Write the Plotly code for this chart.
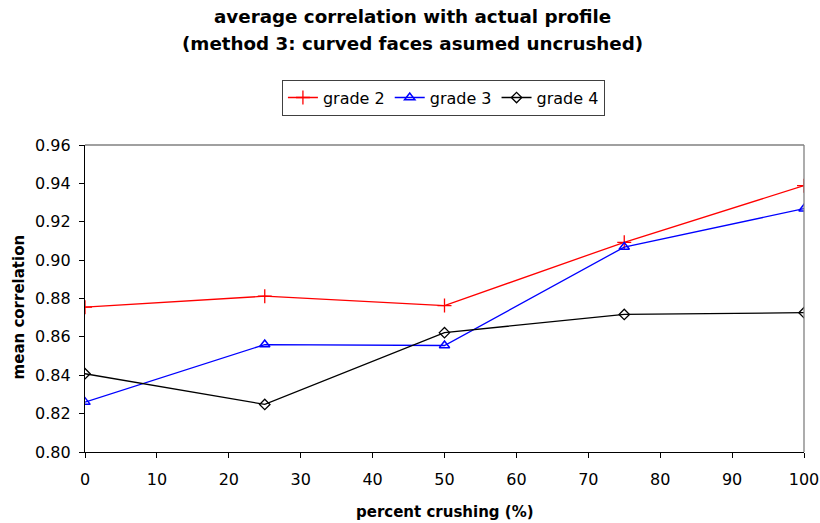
import plotly.graph_objects as go

# percent crushing (%)
crushing = [0, 25, 50, 75, 100]

# mean correlation per grade
grade_2 = [0.8755, 0.8812, 0.8763, 0.9093, 0.9388]
grade_3 = [0.8260, 0.8560, 0.8555, 0.9068, 0.9268]
grade_4 = [0.8408, 0.8248, 0.8622, 0.8717, 0.8726]

y_ticks = [0.80, 0.82, 0.84, 0.86, 0.88, 0.90, 0.92, 0.94, 0.96]
x_ticks = [0, 10, 20, 30, 40, 50, 60, 70, 80, 90, 100]

FONT = "DejaVu Sans, Verdana, sans-serif"
INK = "#000000"

fig = go.Figure()
fig.add_trace(go.Scatter(
    x=crushing, y=grade_2, name="grade 2", mode="lines+markers",
    line=dict(color="#ff0000", width=1.3),
    marker=dict(symbol="cross-thin", size=10, line=dict(color="#ff0000", width=1.3)),
))
fig.add_trace(go.Scatter(
    x=crushing, y=grade_3, name="grade 3", mode="lines+markers",
    line=dict(color="#0000ff", width=1.3),
    marker=dict(symbol="triangle-up-open", size=9, color="#0000ff", line=dict(width=1.5)),
))
fig.add_trace(go.Scatter(
    x=crushing, y=grade_4, name="grade 4", mode="lines+markers",
    line=dict(color=INK, width=1.3),
    marker=dict(symbol="diamond-open", size=8, color=INK, line=dict(width=1.3)),
))

fig.update_layout(
    width=820, height=523,
    margin=dict(l=85, r=16, t=145, b=71, autoexpand=False),
    paper_bgcolor="white", plot_bgcolor="white",
    font=dict(family=FONT, size=16, color=INK),
    showlegend=True,
    legend=dict(
        orientation="h", x=0.4985, xanchor="center", y=1.213, yanchor="top",
        bordercolor="#404040", borderwidth=1, bgcolor="white",
        font=dict(family=FONT, size=16, color=INK),
        itemwidth=30, tracegroupgap=0,
    ),
    xaxis=dict(
        range=[0, 100], tickvals=x_ticks, ticks="outside", ticklen=5,
        tickcolor=INK, showline=True, linecolor=INK, linewidth=1.3,
        showgrid=False, zeroline=False, ticklabelstandoff=8,
        tickfont=dict(family=FONT, size=16, color=INK),
    ),
    yaxis=dict(
        range=[0.80, 0.96], tickvals=y_ticks, tickformat=".2f", ticks="outside",
        ticklen=5, tickcolor=INK, showline=True, linecolor=INK,
        linewidth=1.3, showgrid=False, zeroline=False, ticklabelstandoff=5,
        tickfont=dict(family=FONT, size=16, color=INK),
    ),
    shapes=[
        dict(type="line", xref="paper", yref="paper", x0=0, x1=1, y0=1, y1=1,
             line=dict(color="#808080", width=1.3)),
        dict(type="line", xref="paper", yref="paper", x0=1, x1=1, y0=0, y1=1,
             line=dict(color="#808080", width=1.3)),
    ],
    annotations=[
        dict(text="<b>average correlation with actual profile</b>", xref="paper",
             yref="paper", x=0.456, y=1.418, xanchor="center", yanchor="middle",
             showarrow=False, font=dict(family=FONT, size=18.3, color=INK)),
        dict(text="<b>(method 3: curved faces asumed uncrushed)</b>", xref="paper",
             yref="paper", x=0.456, y=1.329, xanchor="center", yanchor="middle",
             showarrow=False, font=dict(family=FONT, size=18.3, color=INK)),
        dict(text="<b>percent crushing (%)</b>", xref="paper", yref="paper",
             x=0.5007, y=-0.196, xanchor="center", yanchor="middle",
             showarrow=False, font=dict(family=FONT, size=15, color=INK)),
        dict(text="<b>mean correlation</b>", xref="paper", yref="paper",
             x=-0.0923, y=0.473, xanchor="center", yanchor="middle", textangle=-90,
             showarrow=False, font=dict(family=FONT, size=15, color=INK)),
    ],
)

fig.write_html("out.html")
